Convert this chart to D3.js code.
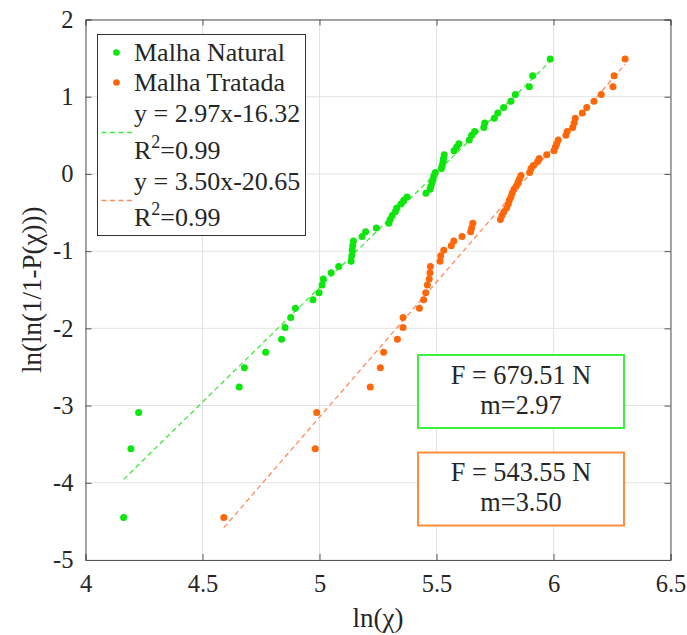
<!DOCTYPE html>
<html><head><meta charset="utf-8">
<script src="https://cdn.jsdelivr.net/npm/d3@7"></script>
<style>body{margin:0;background:#fff}svg{display:block}text{font-family:"Liberation Serif","Times New Roman",serif;fill:#262626}</style>
</head><body>
<script>
// Shared plotting positions ln(ln(1/(1-P)))
const probY = [-4.45,-3.56,-3.09,-2.76,-2.51,-2.31,-2.14,-1.99,-1.86,-1.74,
  -1.63,-1.54,-1.44,-1.36,-1.28,-1.20,-1.13,-1.06,-0.99,-0.93,
  -0.87,-0.81,-0.75,-0.70,-0.64,-0.59,-0.54,-0.49,-0.44,-0.39,
  -0.34,-0.30,-0.25,-0.20,-0.16,-0.11,-0.07,-0.02,0.02,0.07,
  0.11,0.16,0.20,0.25,0.30,0.35,0.39,0.44,0.50,0.55,
  0.60,0.66,0.72,0.79,0.86,0.94,1.03,1.13,1.27,1.49];
const naturalX = [4.163,4.194,4.227,4.657,4.679,4.770,4.838,4.853,4.877,4.897,
  4.972,4.998,5.011,5.016,5.050,5.082,5.135,5.138,5.140,5.142,
  5.145,5.182,5.197,5.243,5.296,5.302,5.311,5.324,5.330,5.348,
  5.360,5.374,5.455,5.472,5.476,5.481,5.485,5.489,5.495,5.521,
  5.524,5.528,5.530,5.533,5.575,5.586,5.596,5.640,5.650,5.663,
  5.702,5.706,5.747,5.762,5.787,5.818,5.837,5.897,5.911,5.986];
const tratadaX = [4.591,4.982,4.988,5.217,5.260,5.274,5.333,5.357,5.357,5.427,
  5.445,5.454,5.461,5.469,5.472,5.474,5.515,5.518,5.531,5.563,
  5.574,5.609,5.646,5.650,5.655,5.773,5.780,5.788,5.800,5.807,
  5.811,5.818,5.823,5.831,5.840,5.848,5.854,5.861,5.898,5.904,
  5.914,5.932,5.939,5.971,6.002,6.008,6.014,6.020,6.053,6.059,
  6.082,6.088,6.093,6.123,6.142,6.173,6.204,6.254,6.259,6.306];
const seriesNames = ["Malha Natural","Malha Tratada"];
const fitSlope = [2.97, 3.50];
const fitIntercept = [-16.32, -20.65];
const fitLabels = ["y = 2.97x-16.32","y = 3.50x-20.65"];
const r2Labels = ["=0.99","=0.99"];
const boxF = ["F = 679.51 N","F = 543.55 N"];
const boxM = ["m=2.97","m=3.50"];
const xTicks = [4,4.5,5,5.5,6,6.5];
const yTicks = [-5,-4,-3,-2,-1,0,1,2];

const dotCol = ["#0be60b","#ff6608"];
const lineCol = ["#3ee83e","#ff8a5c"];
const boxCol = ["#3ef03e","#ff8c3a"];

(function(){
const W=687,H=635;
const svg=d3.select("body").append("svg").attr("width",W).attr("height",H);
const x=d3.scaleLinear().domain([4,6.5]).range([85.5,670.5]);
const y=d3.scaleLinear().domain([-5,2]).range([560,19.5]);
const [x0,x1]=x.range(),[y0,y1]=y.range();

// grid
const g=svg.append("g");
g.selectAll(".gx").data(xTicks).join("line").attr("x1",d=>x(d)).attr("x2",d=>x(d)).attr("y1",y0).attr("y2",y1).attr("stroke","#e3e3e3");
g.selectAll(".gy").data(yTicks).join("line").attr("y1",d=>y(d)).attr("y2",d=>y(d)).attr("x1",x0).attr("x2",x1).attr("stroke","#e3e3e3");

// axes
const axCol="#555";
const axB=svg.append("g").attr("transform",`translate(0,${y0})`).call(d3.axisBottom(x).tickValues(xTicks).tickSize(-6).tickPadding(15).tickFormat(d3.format("")));
const axT=svg.append("g").attr("transform",`translate(0,${y1})`).call(d3.axisTop(x).tickValues(xTicks).tickSize(-6).tickFormat(""));
const axL=svg.append("g").attr("transform",`translate(${x0},0)`).call(d3.axisLeft(y).tickValues(yTicks).tickSize(-6).tickPadding(12).tickFormat(d3.format("")));
const axR=svg.append("g").attr("transform",`translate(${x1},0)`).call(d3.axisRight(y).tickValues(yTicks).tickSize(-6).tickFormat(""));
[axB,axT,axL,axR].forEach(a=>{a.select(".domain").attr("stroke",axCol);a.selectAll(".tick line").attr("stroke",axCol);a.selectAll("text").attr("font-size",24.5).attr("fill","#262626").style("font-family",'"Liberation Serif",serif');});
axL.selectAll("text").text(d=>d<0?"-"+Math.abs(d):d);
axB.selectAll("text").attr("dy","0.71em");

// fit lines
const sets=[naturalX,tratadaX];
sets.forEach((xs,i)=>{
  const ext=d3.extent(xs);
  svg.append("line").attr("x1",x(ext[0])).attr("y1",y(fitSlope[i]*ext[0]+fitIntercept[i]))
    .attr("x2",x(ext[1])).attr("y2",y(fitSlope[i]*ext[1]+fitIntercept[i]))
    .attr("stroke",lineCol[i]).attr("stroke-width",1.3).attr("stroke-dasharray","5,3.5");
});
// points
sets.forEach((xs,i)=>{
  svg.append("g").selectAll("circle").data(xs.map((v,j)=>[v,probY[j]])).join("circle")
    .attr("cx",d=>x(d[0])).attr("cy",d=>y(d[1])).attr("r",3.5).attr("fill",dotCol[i]);
});

// axis labels
svg.append("text").attr("x",(x0+x1)/2).attr("y",627).attr("text-anchor","middle").attr("font-size",27).text("ln(χ)");
svg.append("text").attr("transform",`translate(41,${(y0+y1)/2}) rotate(-90)`).attr("text-anchor","middle").attr("font-size",27).text("ln(ln(1/1-P(χ)))");

// legend
const lg=svg.append("g");
lg.append("rect").attr("x",97.5).attr("y",34.5).attr("width",208).attr("height",201).attr("fill","#fff").attr("stroke","#333").attr("stroke-width",1);
const lfs=26;
seriesNames.forEach((n,i)=>{
  const by=[61,91][i];
  lg.append("circle").attr("cx",116.5).attr("cy",by-8.5).attr("r",3.3).attr("fill",dotCol[i]);
  lg.append("text").attr("x",134).attr("y",by).attr("font-size",lfs).text(n);
});
fitLabels.forEach((t,i)=>{
  const by=[121.5,190][i], ry=[159,226][i], ly=[132.5,200.5][i];
  lg.append("line").attr("x1",101.5).attr("x2",132).attr("y1",ly).attr("y2",ly).attr("stroke",lineCol[i]).attr("stroke-width",1.3).attr("stroke-dasharray","5,3.5");
  lg.append("text").attr("x",134).attr("y",by).attr("font-size",lfs).text(t);
  const tx=lg.append("text").attr("x",134).attr("y",ry).attr("font-size",lfs);
  tx.append("tspan").text("R");
  tx.append("tspan").attr("font-size",18).attr("dy",-11).text("2");
  tx.append("tspan").attr("dy",11).text(r2Labels[i]);
});

// annotation boxes
boxF.forEach((t,i)=>{
  const bt=[355,452.5][i];
  svg.append("rect").attr("x",418).attr("y",bt).attr("width",206).attr("height",73).attr("fill","#fff").attr("stroke",boxCol[i]).attr("stroke-width",2);
  svg.append("text").attr("x",521).attr("y",bt+28.5).attr("text-anchor","middle").attr("font-size",26.3).text(t);
  svg.append("text").attr("x",521).attr("y",bt+58.5).attr("text-anchor","middle").attr("font-size",26.3).text(boxM[i]);
});
})();
</script>
</body></html>
